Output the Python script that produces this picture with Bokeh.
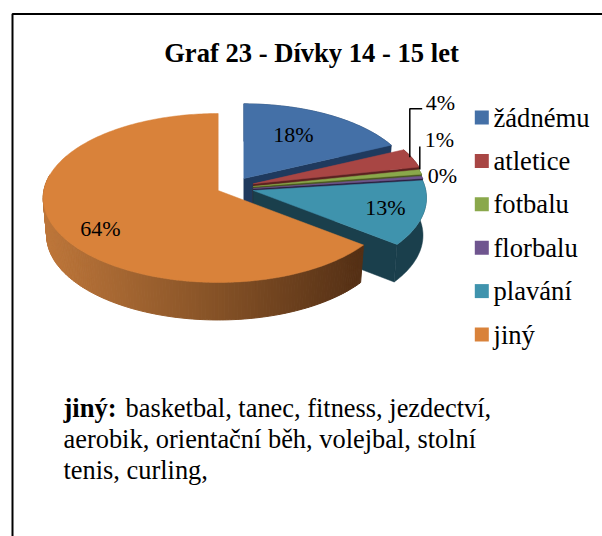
import math
from bokeh.plotting import figure
from bokeh.models import Range1d
from bokeh.core.properties import value
from bokeh.embed import file_html
from bokeh.resources import INLINE

# ---- data -------------------------------------------------------------
categories = ["žádnému", "atletice", "fotbalu", "florbalu", "plavání", "jiný"]
shares = [18.0, 3.7, 0.9, 0.45, 12.5, 64.45]
share_labels = ["18%", "4%", "1%", "0%", "13%", "64%"]
title_text = "Graf 23 - Dívky 14 - 15 let"
note_bold = "jiný:"
note_lines = ["basketbal, tanec, fitness, jezdectví,", "aerobik, orientační běh, volejbal, stolní", "tenis, curling,"]

# ---- style / layout ----------------------------------------------------
top_colors = ["#4470a7", "#a84644", "#8aa84b", "#6f558f", "#3f93ad", "#d9823a"]
wall_colors = ["#1f3a5e", "#5a2120", "#48581f", "#2b2040", "#1a3f4c", "#d9823a"]
apex_x = [243.3, 252.7, 252.7, 252.7, 252.7, 217.7]
apex_y = [178.0, 183.3, 186.0, 188.0, 190.0, 190.0]
radius_scale = [0.97, 0.99, 0.99, 0.99, 0.99, 1.0]
R_X, R_Y, PERSP, DEPTH, SHRINK = 174.3, 83.8, 0.0887, 37.5, 0.98
FONT = value("Liberation Serif")
W, H = 602, 536

p = figure(width=W, height=H, output_backend="svg", toolbar_location=None,
           x_range=Range1d(0, W), y_range=Range1d(H, 0), min_border=0)
p.axis.visible = False
p.grid.visible = False
p.outline_line_color = None
p.background_fill_color = "#ffffff"
p.border_fill_color = "#ffffff"

# frame
p.line([12, 12, 602], [536, 13.5, 13.5], line_color="#000000", line_width=2)


def rim(i, deg):
    t = math.radians(deg)
    z = math.cos(t)
    s = radius_scale[i] / (1 + PERSP * z)
    return apex_x[i] + R_X * math.sin(t) * s, apex_y[i] - R_Y * z * s


def low(i, pt):
    return apex_x[i] + (pt[0] - apex_x[i]) * SHRINK, pt[1] + DEPTH


def lerp(a, b, f):
    return "#%02x%02x%02x" % tuple(round(a[k] + (b[k] - a[k]) * f) for k in range(3))


start = 0.0
spans = []
for v in shares:
    spans.append((start * 3.6, (start + v) * 3.6))
    start += v

# slices, back to front
for i, (a0, a1) in enumerate(spans):
    n = max(3, int((a1 - a0) / 1.0))
    degs = [a0 + (a1 - a0) * k / n for k in range(n + 1)]
    arc = [rim(i, d) for d in degs]
    apex = (apex_x[i], apex_y[i])
    if i < 5:
        # one-colour wall: cut face at the end of the slice and outer rim
        face = [apex, arc[-1], low(i, arc[-1]), low(i, apex)]
        p.patch([q[0] for q in face], [q[1] for q in face], fill_color=wall_colors[i],
                line_color=wall_colors[i], line_width=0.5)
        outer = arc + [low(i, q) for q in reversed(arc)]
        p.patch([q[0] for q in outer], [q[1] for q in outer], fill_color=wall_colors[i],
                line_color=wall_colors[i], line_width=0.5)
    else:
        # shaded rim of the big slice
        dark, mid, light = (0x55, 0x30, 0x15), (0x8a, 0x55, 0x28), (0xbd, 0x76, 0x3a)
        xs, ys, cols = [], [], []
        for k in range(n):
            if degs[k] > 280:
                continue
            q0, q1 = arc[k], arc[k + 1]
            r0, r1 = low(i, q1), low(i, q0)
            xs.append([q0[0], q1[0], r0[0], r1[0]])
            ys.append([q0[1], q1[1], r0[1], r1[1]])
            f = min(1, max(0, (q0[0] - 45) / (360 - 45)))
            cols.append(lerp(light, mid, f / 0.5) if f < 0.5 else lerp(mid, dark, (f - 0.5) / 0.5))
        p.patches(xs, ys, fill_color=cols, line_color=cols, line_width=1)
    pts = [apex] + arc
    p.patch([q[0] for q in pts], [q[1] for q in pts], fill_color=top_colors[i],
            line_color=top_colors[i], line_width=0.5)

# leader lines
p.line([421.7, 409.3, 409.3], [108.3, 108.3, 156.7], line_color="#000000", line_width=1.5)
p.line([419.3, 419.3], [146, 169], line_color="#000000", line_width=1.5)

# slice labels
label_x = [293, 440, 439, 442, 385, 100]
label_y = [134, 102, 139, 175, 207, 228]
p.text(label_x, label_y, text=share_labels, text_font=FONT, text_font_size="22px",
       text_align="center", text_baseline="middle", text_color="#000000")

# legend
leg_y = [117, 160.4, 203.8, 247.2, 290.6, 334]
p.rect([481.3] * 6, leg_y, width=14, height=14, fill_color=top_colors, line_color=None)
p.text([493] * 6, leg_y, text=categories, text_font=FONT, text_font_size="26.6px",
       text_align="left", text_baseline="middle", text_color="#000000")

# title
p.text([311], [52], text=[title_text], text_font=FONT, text_font_size="26.6px",
       text_font_style="bold", text_align="center", text_baseline="middle", text_color="#000000")

# note
p.text([63], [407], text=[note_bold], text_font=FONT, text_font_size="26.6px",
       text_font_style="bold", text_align="left", text_baseline="middle", text_color="#000000")
p.text([125, 63, 63], [407, 438, 469], text=note_lines, text_font=FONT, text_font_size="26.4px",
       text_align="left", text_baseline="middle", text_color="#000000")

open("out.html", "w").write(file_html(p, INLINE))
